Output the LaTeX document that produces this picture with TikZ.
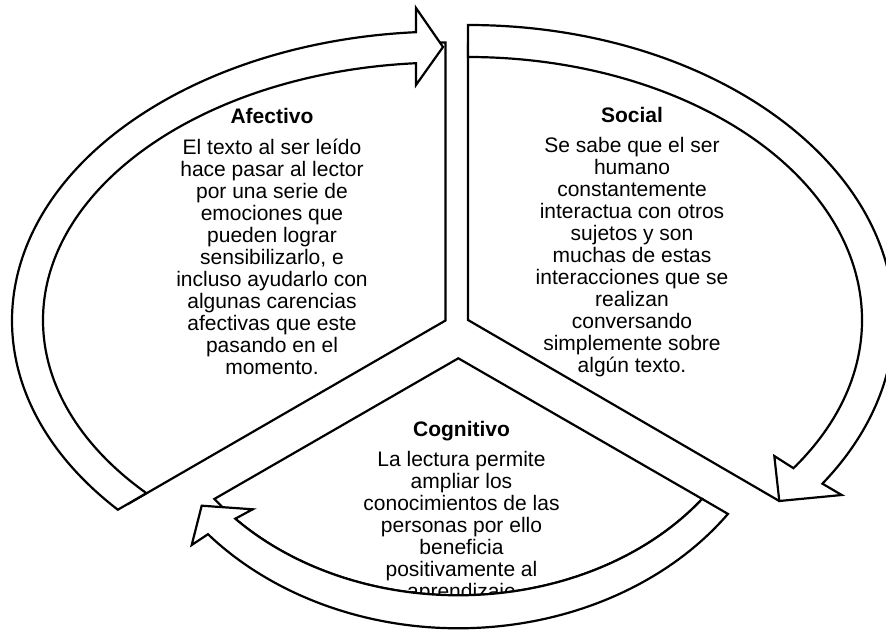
\documentclass[tikz,border=0pt]{standalone}
\usepackage{fontspec}
\setmainfont{Liberation Sans}
\usetikzlibrary{positioning}

\tikzset{
    segment/.style={draw=black, fill=white, line width=2.2pt, line join=miter},
    heading/.style={font=\fontsize{21}{22}\selectfont\bfseries, inner sep=0pt, anchor=base},
    bodytext/.style={font=\fontsize{21}{22}\selectfont, align=center, inner sep=0pt, anchor=base}
}

\begin{document}
\begin{tikzpicture}[x=1pt,y=1pt]

\useasboundingbox (0,0) rectangle (886,630);
\clip (0,0) rectangle (886,630);

% Wedge centres
\coordinate (afcentre) at (445.5,309.5);
\coordinate (socentre) at (468,310);
\coordinate (cogcentre) at (458.3,271.7);

% Wedges
\draw[segment] (afcentre) -- ([shift={(afcentre)}]221.3:422.5 and 278)
    arc[start angle=221.3, end angle=90, x radius=422.5, y radius=278] -- cycle;
\draw[segment] (socentre) -- ([shift={(socentre)}]90:412.6 and 275.4)
    arc[start angle=90, end angle=-41.06, x radius=412.6, y radius=275.4] -- cycle;
\draw[segment] (cogcentre) -- ([shift={(cogcentre)}]216.4:303 and 237)
    arc[start angle=216.4, end angle=323.6, x radius=303, y radius=237] -- cycle;

% Afectivo text (base = last line, 11 lines)
\node[heading] (afectivo) at (272,506) {Afectivo};
\node[bodytext, below=250pt of afectivo.base, anchor=base] (afectivotext)
    {El texto al ser leído\\ hace pasar al lector\\ por una serie de\\
     emociones que\\ pueden lograr\\ sensibilizarlo, e\\ incluso ayudarlo con\\
     algunas carencias\\ afectivas que este\\ pasando en el\\ momento.};

% Social text (11 lines)
\node[heading] (social) at (632,507.5) {Social};
\node[bodytext, below=250pt of social.base, anchor=base] (socialtext)
    {Se sabe que el ser\\ humano\\ constantemente\\ interactua con otros\\
     sujetos y son\\ muchas de estas\\ interacciones que se\\ realizan\\
     conversando\\ simplemente sobre\\ algún texto.};

% Cognitivo text (7 lines)
\node[heading] (cognitivo) at (461.5,193.3) {Cognitivo};
\node[bodytext, below=162pt of cognitivo.base, anchor=base] (cognitivotext)
    {La lectura permite\\ ampliar los\\ conocimientos de las\\ personas por ello\\
     beneficia\\ positivamente al\\ aprendizaje};

% Arrows
\draw[segment] ([shift={(afcentre)}]220.9:433.5 and 289)
    arc[start angle=220.9, end angle=93.9, x radius=433.5, y radius=289]
    -- (416,622) -- (443,583) -- (416,545)
    -- ([shift={(afcentre)}]94.2:402.5 and 258)
    arc[start angle=94.2, end angle=222.0, x radius=402.5, y radius=258] -- cycle;

\draw[segment] ([shift={(socentre)}]90:426 and 295)
    arc[start angle=90, end angle=-33.7, x radius=426, y radius=295]
    -- (841.7,135) -- (779.3,129) -- (774.3,174)
    -- ([shift={(socentre)}]-34.3:394 and 263)
    arc[start angle=-34.3, end angle=90, x radius=394, y radius=263] -- cycle;

\draw[segment] ([shift={(cogcentre)}]-35.2:330 and 270)
    arc[start angle=-35.2, end angle=-139.34, x radius=330, y radius=270]
    -- (191.7,85) -- (201.7,124.3) -- (252.7,120.7)
    -- ([shift={(cogcentre)}]-137.4:303 and 237)
    arc[start angle=-137.4, end angle=-36.4, x radius=303, y radius=237] -- cycle;

\end{tikzpicture}
\end{document}
